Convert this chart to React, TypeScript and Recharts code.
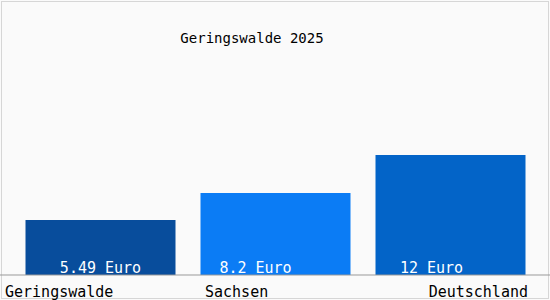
import { BarChart, Bar, XAxis, YAxis, Cell, LabelList } from 'recharts';

const places = ['Geringswalde', 'Sachsen', 'Deutschland'];
const prices = [5.49, 8.2, 12];
const priceLabels = ['5.49 Euro', '8.2 Euro', '12 Euro'];
const barColors = ['#084d9c', '#0b7cf5', '#0364c8'];

const chartData = places.map((name, i) => ({ name, value: prices[i], label: priceLabels[i] }));

const FONT = '"DejaVu Sans Mono", monospace';

// small nudges so the in-bar labels sit where the original has them
const labelShift = [0, -20, -19];

const PlaceTick = ({ x, y, payload, index }: any) => {
  let anchor: 'start' | 'middle' | 'end' = 'middle';
  let tx = x;
  if (index === 0) { anchor = 'start'; tx = x - 95; }
  if (index === 1) { anchor = 'start'; tx = x - 70; }
  if (index === 2) { anchor = 'end'; tx = x + 78; }
  return (
    <text x={tx} y={y} dy={14} textAnchor={anchor} fill="#000" fontSize={15} fontFamily={FONT}>
      {payload.value}
    </text>
  );
};

const PriceLabel = ({ x, y, width, height, index }: any) => (
  <text
    x={x + width / 2 + labelShift[index]}
    y={y + height - 2}
    textAnchor="middle"
    fill="#fff"
    fontSize={15}
    fontFamily={FONT}
  >
    {priceLabels[index]}
  </text>
);

const App = () => {
  return (
    <div style={{ position: 'absolute', left: 0, top: 0, width: 550, height: 300, background: '#fafafa' }}>
      <div style={{ position: 'absolute', left: 1, top: 1, width: 546, height: 296, border: '1px solid #d6d6d6' }} />
      <div style={{ position: 'absolute', left: 0, top: 0 }}>
        <BarChart width={550} height={300} data={chartData} margin={{ top: 35, right: 0, bottom: 0, left: 0 }}>
          <text x={252} y={43} textAnchor="middle" fontSize={14} fontFamily={FONT} fill="#000">
            Geringswalde 2025
          </text>
          <YAxis hide domain={[0, 24]} />
          <XAxis
            dataKey="name"
            height={25}
            padding={{ left: 12.5, right: 12.5 }}
            axisLine={{ stroke: '#999' }}
            tickLine={false}
            tick={<PlaceTick />}
            interval={0}
          />
          <Bar dataKey="value" barSize={150} isAnimationActive={false}>
            {chartData.map((entry, index) => (
              <Cell key={`cell-${index}`} fill={barColors[index]} />
            ))}
            <LabelList dataKey="label" content={<PriceLabel />} />
          </Bar>
        </BarChart>
      </div>
    </div>
  );
};

export default App;
